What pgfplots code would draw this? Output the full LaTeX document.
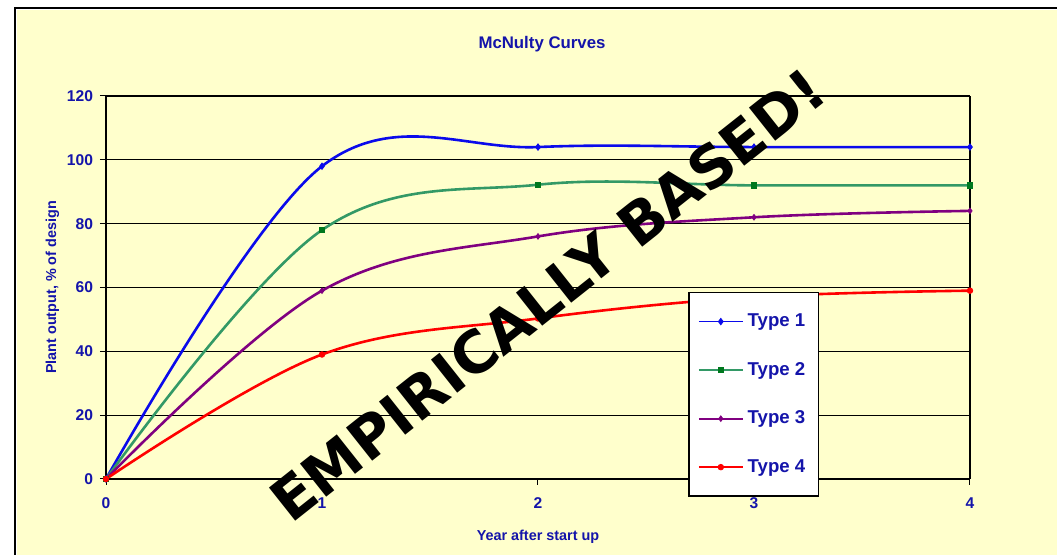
\documentclass[border=0pt]{standalone}
\usepackage{pgfplots}
\pgfplotsset{compat=1.18}
\usepackage{fontspec}
\setmainfont{Liberation Sans}
\newfontfamily\wmfont{DejaVu Sans}

\definecolor{bgyellow}{RGB}{255,255,204}
\definecolor{labelblue}{RGB}{20,20,170}
\definecolor{t1blue}{RGB}{10,10,235}
\definecolor{t2green}{RGB}{51,153,102}
\definecolor{t2mark}{RGB}{0,120,30}
\definecolor{t3purple}{RGB}{128,0,128}
\definecolor{t4red}{RGB}{255,0,0}
\definecolor{framegray}{RGB}{128,128,128}

\begin{document}
\begin{tikzpicture}[x=1pt,y=1pt]
% page is 1057x555 px at 2 px per pt
\useasboundingbox (0,0) rectangle (528.5,277.5);
\fill[white] (0,0) rectangle (528.5,277.5);
\fill[bgyellow] (8.5,0) rectangle (528.5,272.5);
\draw[black,line width=0.8pt] (7.5,0) -- (7.5,273.5) -- (528.5,273.5);

\node[font=\bfseries\fontsize{8.4}{10}\selectfont,text=labelblue] at (271,255.5) {McNulty Curves};

\begin{axis}[
at={(53pt,38pt)}, anchor=south west,
scale only axis,
width=432pt, height=191.5pt,
xmin=0, xmax=4, ymin=0, ymax=120,
xtick={0,1,2,3,4}, ytick={0,20,...,120},
axis background/.style={fill=bgyellow},
axis line style={draw=framegray, line width=0.7pt},
separate axis lines,
x axis line style={draw=black},
y axis line style={draw=black},
tick align=outside, tick pos=left,
major tick length=3pt,
tick style={black, line width=0.5pt},
ymajorgrids,
y grid style={black, line width=0.5pt},
ticklabel style={font=\bfseries\fontsize{7.8}{9}\selectfont, text=labelblue},
/pgf/number format/assume math mode=true,
xticklabel style={yshift=-3pt},
xlabel={Year after start up},
ylabel={Plant output, \% of design},
label style={font=\bfseries\fontsize{7.2}{9}\selectfont, text=labelblue},
xlabel style={yshift=-3.5pt},
ylabel style={yshift=-3pt},
legend cell align={left},
legend style={at={(rel axis cs:0.674,0.488)}, anchor=north west,
  draw=black, fill=white, line width=0.6pt,
  font=\bfseries\fontsize{9.3}{10}\selectfont, text=labelblue,
  inner xsep=4.5pt, inner ysep=8.5pt, row sep=12.3pt, column sep=0pt},
legend image code/.code={%
  \draw[#1,line width=0.9pt,mark repeat=2,mark phase=2] plot[sharp plot] coordinates {(0pt,0pt) (11pt,0pt) (22pt,0pt)};},
every axis plot/.append style={line width=1.3pt, smooth, tension=0.6},
clip=false,
]
\addplot[t1blue, mark=diamond*, mark size=1.6pt, mark options={solid, line width=0.4pt}] coordinates {
(0,0) (1,98) (2,104) (3,104) (4,104)};
\addlegendentry{Type 1}
\addplot[t2green, mark=square*, mark size=1.4pt, mark options={solid, fill=t2mark, draw=t2mark, line width=0.4pt}] coordinates {
(0,0) (1,78) (2,92.2) (3,92) (4,92)};
\addlegendentry{Type 2}
\addplot[t3purple, mark=diamond*, mark size=1.4pt, mark options={solid, line width=0.4pt}] coordinates {
(0,0) (1,59) (2,76) (3,82) (4,84)};
\addlegendentry{Type 3}
\addplot[t4red, mark=*, mark size=1.4pt, mark options={solid, line width=0.4pt}] coordinates {
(0,0) (1,39) (2,50.3) (3,57) (4,59)};
\addlegendentry{Type 4}
\end{axis}

\node[rotate=38.4, font=\wmfont\bfseries\fontsize{29}{32}\selectfont, text=black] at (274,130) {EMPIRICALLY BASED!};
\end{tikzpicture}
\end{document}
